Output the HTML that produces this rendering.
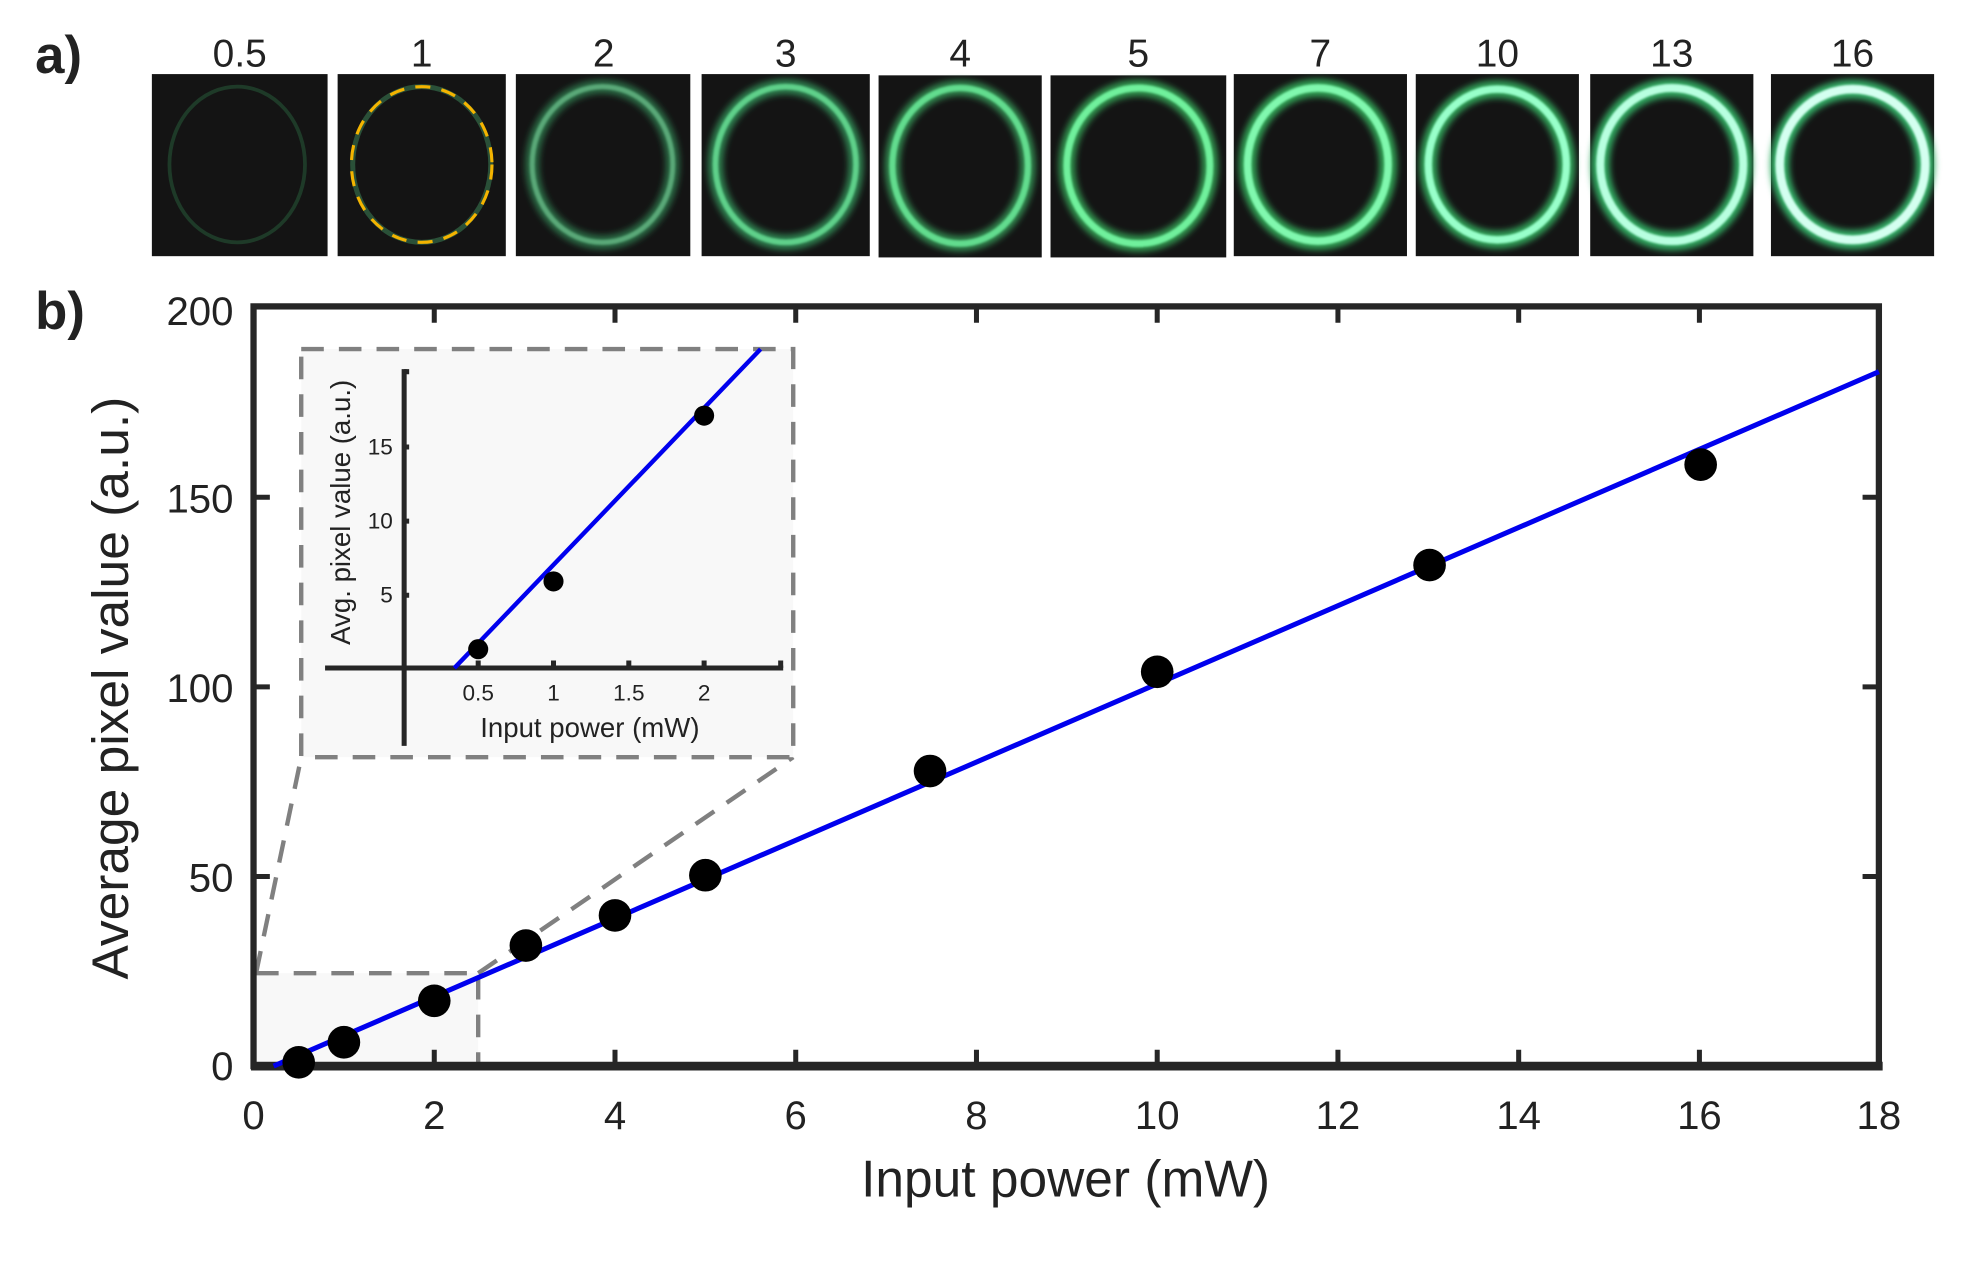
<!DOCTYPE html>
<html><head><meta charset="utf-8"><style>
html,body{margin:0;padding:0;background:#fff;}
svg{display:block;}
text{font-family:"Liberation Sans",Arial,sans-serif;fill:#222;}
</style></head><body>
<svg width="1968" height="1262" viewBox="0 0 1568 1005" preserveAspectRatio="none" xmlns="http://www.w3.org/2000/svg">
<defs>
<filter id="glow" x="-30%" y="-30%" width="160%" height="160%"><feGaussianBlur stdDeviation="2.5"/></filter>
<filter id="glow2" x="-30%" y="-30%" width="160%" height="160%"><feGaussianBlur stdDeviation="0.8"/></filter>
</defs>
<text x="28" y="58" font-size="42" font-weight="bold" fill="#111">a)</text>
<text x="28" y="262" font-size="42" font-weight="bold" fill="#111">b)</text>
<g font-size="31" text-anchor="middle">
<text x="191" y="53">0.5</text><text x="336" y="53">1</text><text x="481" y="53">2</text><text x="626" y="53">3</text><text x="765" y="53">4</text><text x="907" y="53">5</text><text x="1052" y="53">7</text><text x="1193" y="53">10</text><text x="1332" y="53">13</text><text x="1476" y="53">16</text>
</g>
<g fill="#141414">
<rect x="121" y="59" width="140" height="145"/><rect x="269" y="59" width="134" height="145"/><rect x="411" y="59" width="139" height="145"/><rect x="559" y="59" width="134" height="145"/><rect x="700" y="60" width="130" height="145"/><rect x="837" y="60" width="140" height="145"/><rect x="983" y="59" width="138" height="145"/><rect x="1128" y="59" width="130" height="145"/><rect x="1267" y="59" width="130" height="145"/><rect x="1411" y="59" width="130" height="145"/>
</g>
<g fill="none">
<ellipse cx="189" cy="131" rx="54" ry="62" stroke="#1e3a28" stroke-width="3"/>
<ellipse cx="336" cy="131" rx="55" ry="62" stroke="#2a5038" stroke-width="4"/>
<ellipse cx="336" cy="131" rx="56" ry="62" stroke="#f4b400" stroke-width="2.5" stroke-dasharray="12 9"/>
<ellipse cx="480" cy="131" rx="56" ry="62" stroke="#2c6a45" stroke-width="11" filter="url(#glow)"/>
<ellipse cx="480" cy="131" rx="56" ry="62" stroke="#5aa878" stroke-width="4" filter="url(#glow2)"/>
<ellipse cx="626" cy="131" rx="56" ry="62" stroke="#2f8050" stroke-width="12" filter="url(#glow)"/>
<ellipse cx="626" cy="131" rx="56" ry="62" stroke="#5fd08a" stroke-width="4.5" filter="url(#glow2)"/>
<ellipse cx="765" cy="132" rx="54" ry="62" stroke="#30884f" stroke-width="12" filter="url(#glow)"/>
<ellipse cx="765" cy="132" rx="54" ry="62" stroke="#62dc8e" stroke-width="5" filter="url(#glow2)"/>
<ellipse cx="907" cy="132" rx="57" ry="62" stroke="#30954f" stroke-width="13" filter="url(#glow)"/>
<ellipse cx="907" cy="132" rx="57" ry="62" stroke="#70f09c" stroke-width="5.5" filter="url(#glow2)"/>
<ellipse cx="1050" cy="131" rx="56" ry="61" stroke="#30a055" stroke-width="14" filter="url(#glow)"/>
<ellipse cx="1050" cy="131" rx="56" ry="61" stroke="#80f8ae" stroke-width="6" filter="url(#glow2)"/>
<ellipse cx="1193" cy="131" rx="55" ry="60" stroke="#30a058" stroke-width="14" filter="url(#glow)"/>
<ellipse cx="1193" cy="131" rx="55" ry="60" stroke="#98ffca" stroke-width="6" filter="url(#glow2)"/>
<ellipse cx="1332" cy="131" rx="57" ry="61" stroke="#32a860" stroke-width="15" filter="url(#glow)"/>
<ellipse cx="1332" cy="131" rx="57" ry="61" stroke="#b8ffe0" stroke-width="6.5" filter="url(#glow2)"/>
<ellipse cx="1476" cy="131" rx="58" ry="60" stroke="#34b068" stroke-width="15" filter="url(#glow)"/>
<ellipse cx="1476" cy="131" rx="58" ry="60" stroke="#d4fff0" stroke-width="7" filter="url(#glow2)"/>
</g>
<rect x="204" y="775" width="177" height="74" fill="#f8f8f8"/>
<g stroke="#808080" stroke-width="3.5" fill="none" stroke-dasharray="18 12">
<path d="M204 775 H381 V849"/>
<path d="M204 775 L240 603"/>
<path d="M381 775 L632 603"/>
</g>
<rect x="240" y="278" width="392" height="325" fill="#f8f8f8" stroke="#808080" stroke-width="3.5" stroke-dasharray="18 12"/>
<g stroke="#262626" stroke-width="4">
<path d="M346 849 v-13 M490 849 v-13 M634 849 v-13 M778 849 v-13 M922 849 v-13 M1066 849 v-13 M1210 849 v-13 M1354 849 v-13"/>
<path d="M346 244 v13 M490 244 v13 M634 244 v13 M778 244 v13 M922 244 v13 M1066 244 v13 M1210 244 v13 M1354 244 v13"/>
<path d="M202 698 h13 M202 547 h13 M202 396 h13 M1497 698 h-13 M1497 547 h-13 M1497 396 h-13"/>
</g>
<rect x="202" y="244" width="1295" height="605" fill="none" stroke="#262626" stroke-width="5"/>
<line x1="200" y1="849" x2="1500" y2="849" stroke="#262626" stroke-width="7"/>
<line x1="218" y1="849" x2="1497" y2="296" stroke="#0000ee" stroke-width="4"/>
<g fill="#000">
<circle cx="238" cy="846" r="13"/><circle cx="274" cy="830" r="13"/><circle cx="346" cy="797" r="13"/><circle cx="419" cy="753" r="13"/><circle cx="490" cy="729" r="13"/><circle cx="562" cy="697" r="13"/><circle cx="741" cy="614" r="13"/><circle cx="922" cy="535" r="13"/><circle cx="1139" cy="450" r="13"/><circle cx="1355" cy="370" r="13"/>
</g>
<g font-size="32" text-anchor="end">
<text x="186" y="259">200</text><text x="186" y="408">150</text><text x="186" y="559">100</text><text x="186" y="710">50</text><text x="186" y="860">0</text>
</g>
<g font-size="32" text-anchor="middle">
<text x="202" y="899">0</text><text x="346" y="899">2</text><text x="490" y="899">4</text><text x="634" y="899">6</text><text x="778" y="899">8</text><text x="922" y="899">10</text><text x="1066" y="899">12</text><text x="1210" y="899">14</text><text x="1354" y="899">16</text><text x="1497" y="899">18</text>
</g>
<text x="849" y="953" font-size="41" text-anchor="middle">Input power (mW)</text>
<text transform="translate(102,548) rotate(-90)" font-size="41" text-anchor="middle">Average pixel value (a.u.)</text>
<g stroke="#262626" stroke-width="4">
<line x1="259" y1="532" x2="624" y2="532"/>
<line x1="322" y1="294" x2="322" y2="594"/>
<path d="M381 532 v-6 M441 532 v-6 M501 532 v-6 M561 532 v-6 M622 532 v-6 M322 474 h4 M322 415 h4 M322 356 h4 M322 296 h4"/>
</g>
<line x1="362" y1="532" x2="606" y2="278" stroke="#0000ee" stroke-width="3.5"/>
<g fill="#000"><circle cx="381" cy="517" r="8"/><circle cx="441" cy="463" r="8"/><circle cx="561" cy="331" r="8"/></g>
<g font-size="18" text-anchor="middle"><text x="381" y="558">0.5</text><text x="441" y="558">1</text><text x="501" y="558">1.5</text><text x="561" y="558">2</text></g>
<g font-size="18" text-anchor="end"><text x="313" y="480">5</text><text x="313" y="421">10</text><text x="313" y="362">15</text></g>
<text x="470" y="587" font-size="22" text-anchor="middle">Input power (mW)</text>
<text transform="translate(279,408) rotate(-90)" font-size="22" text-anchor="middle">Avg. pixel value (a.u.)</text>
</svg>
</body></html>
